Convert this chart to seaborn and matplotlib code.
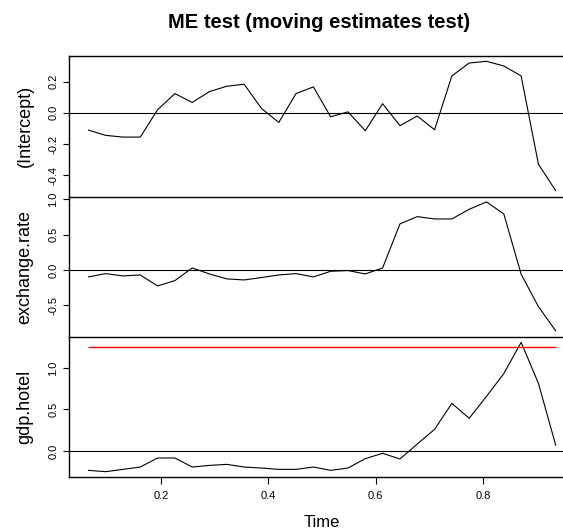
import matplotlib
matplotlib.use("Agg")
import matplotlib.pyplot as plt
import seaborn as sns

# time index of the moving estimates
time = [0.0645, 0.0968, 0.1290, 0.1613, 0.1935, 0.2258, 0.2581, 0.2903,
        0.3226, 0.3548, 0.3871, 0.4194, 0.4516, 0.4839, 0.5161, 0.5484,
        0.5806, 0.6129, 0.6452, 0.6774, 0.7097, 0.7419, 0.7742, 0.8065,
        0.8387, 0.8710, 0.9032, 0.9355]

intercept = [-0.111, -0.145, -0.156, -0.156, 0.019, 0.123, 0.066, 0.136,
             0.170, 0.183, 0.028, -0.062, 0.123, 0.166, -0.026, 0.006,
             -0.115, 0.058, -0.083, -0.021, -0.109, 0.236, 0.319, 0.330,
             0.300, 0.236, -0.330, -0.500]

exchange_rate = [-0.099, -0.052, -0.085, -0.071, -0.227, -0.151, 0.028, -0.057,
                 -0.127, -0.142, -0.108, -0.071, -0.052, -0.099, -0.019, -0.009,
                 -0.057, 0.028, 0.652, 0.755, 0.722, 0.722, 0.859, 0.963,
                 0.793, -0.061, -0.519, -0.864]

gdp_hotel = [-0.233, -0.249, -0.221, -0.193, -0.084, -0.084, -0.193, -0.173,
             -0.161, -0.193, -0.205, -0.221, -0.221, -0.193, -0.233, -0.205,
             -0.092, -0.028, -0.096, 0.084, 0.261, 0.574, 0.394, 0.659,
             0.932, 1.309, 0.815, 0.068]

boundary = 1.253  # critical value shown in the last panel

panel_names = ["(Intercept)", "exchange.rate", "gdp.hotel"]
panel_values = [intercept, exchange_rate, gdp_hotel]
panel_ylims = [(-0.537, 0.364), (-0.95, 1.04), (-0.313, 1.373)]
panel_ticks = [[-0.4, -0.2, 0.0, 0.2], [-0.5, 0.0, 0.5, 1.0], [0.0, 0.5, 1.0]]
x_ticks = [0.2, 0.4, 0.6, 0.8]

sns.set_style("white")
plt.rcParams["font.family"] = ["Liberation Sans", "DejaVu Sans"]
plt.rcParams["text.color"] = "black"
plt.rcParams["xtick.color"] = "black"
plt.rcParams["ytick.color"] = "black"

W, H = 563, 529
fig = plt.figure(figsize=(W / 100, H / 100), dpi=100)

# panel edges in pixels (top, bottom)
edges = [(56, 196.5), (196.5, 337), (337, 477)]
left_px = 69

for i, (name, vals) in enumerate(zip(panel_names, panel_values)):
    top, bot = edges[i]
    ax = fig.add_axes([left_px / W, 1 - bot / H, 1 - left_px / W, (bot - top) / H])
    sns.lineplot(x=time, y=vals, ax=ax, color="black", linewidth=0.8)
    ax.axhline(0, color="black", linewidth=0.8)
    if i == 2:
        ax.hlines(boundary, time[0], time[-1], color="red", linewidth=1.0)
    ax.set_xlim(0.0285, 0.949)
    ax.set_ylim(*panel_ylims[i])
    ax.set_yticks(panel_ticks[i])
    ax.set_yticklabels([f"{t:.1f}" for t in panel_ticks[i]], rotation=90, va="center")
    ax.tick_params(axis="y", left=True, length=4.5, width=0.8, pad=3, labelsize=8)
    for s in ["top", "bottom", "left"]:
        ax.spines[s].set_color("black")
        ax.spines[s].set_linewidth(1.0)
    ax.spines["right"].set_visible(False)
    if i < 2:
        ax.spines["bottom"].set_visible(False)
        ax.set_xticks([])
    else:
        ax.set_xticks(x_ticks)
        ax.set_xticklabels([f"{t:.1f}" for t in x_ticks])
        ax.tick_params(axis="x", bottom=True, length=5, width=0.8, pad=5, labelsize=8)
    fig.text(25 / W, 1 - (top + bot) / 2 / H, name, rotation=90,
             ha="center", va="center", fontsize=13)

fig.text(319 / W, 1 - 28.3 / H, "ME test (moving estimates test)",
         ha="center", va="baseline", fontsize=14.5, fontweight="bold")
fig.text(322 / W, 1 - 527 / H, "Time", ha="center", va="baseline", fontsize=12)

fig.savefig("out.png", dpi=100)
